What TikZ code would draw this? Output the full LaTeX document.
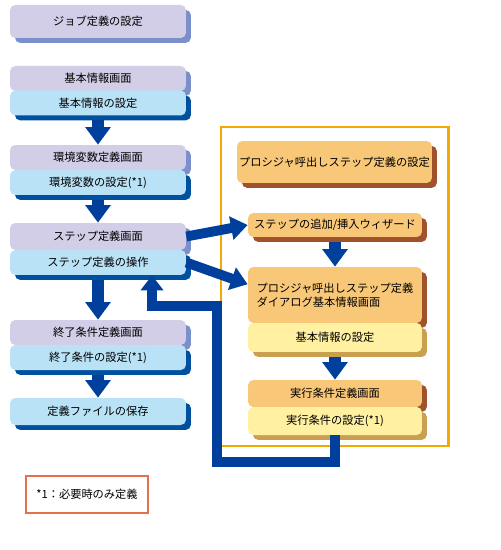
\documentclass[tikz,border=0pt]{standalone}
\usepackage{fontspec}
\setmainfont{Noto Sans CJK JP}
\usetikzlibrary{arrows.meta, shadows}

\definecolor{lavfill}{HTML}{D2CEE7}
\definecolor{lavshade}{HTML}{7B8FCB}
\definecolor{skyfill}{HTML}{BAE2F6}
\definecolor{skyshade}{HTML}{0050A0}
\definecolor{orgfill}{HTML}{F8C878}
\definecolor{orgshade}{HTML}{A0522D}
\definecolor{ylwfill}{HTML}{FFF0A2}
\definecolor{ylwshade}{HTML}{C8A050}
\definecolor{flowblue}{HTML}{00409C}
\definecolor{framegold}{HTML}{F2A900}
\definecolor{noteline}{HTML}{E5704F}

\begin{document}
\begin{tikzpicture}[
  x=0.02cm, y=-0.02cm,
  font=\fontsize{6.4}{8}\selectfont,
  box/.style={rectangle, rounded corners=3pt, text centered, inner sep=1pt},
  screen/.style={box, fill=lavfill, minimum width=3.52cm, minimum height=0.5cm,
                 drop shadow={shadow xshift=2.8pt, shadow yshift=-2.8pt, fill=lavshade, opacity=1}},
  oper/.style={box, fill=skyfill, minimum width=3.52cm, minimum height=0.5cm,
               drop shadow={shadow xshift=2.8pt, shadow yshift=-2.8pt, fill=skyshade, opacity=1}},
  pscreen/.style={box, fill=orgfill, minimum width=3.48cm, minimum height=0.54cm,
                  drop shadow={shadow xshift=2.8pt, shadow yshift=-2.8pt, fill=orgshade, opacity=1}},
  poper/.style={box, fill=ylwfill, minimum width=3.48cm, minimum height=0.56cm,
                drop shadow={shadow xshift=2.8pt, shadow yshift=-2.8pt, fill=ylwshade, opacity=1}},
  downarrow/.style={-{Triangle[width=14pt, length=10pt]}, line width=7pt, flowblue},
  sidearrow/.style={-{Triangle[width=13pt, length=9.5pt]}, line width=5.6pt, flowblue},
  backarrow/.style={-{Triangle[width=12.5pt, length=8.5pt]}, line width=5.2pt,
                    flowblue, line join=miter}
]
  \useasboundingbox (0,0) rectangle (500,550);

  % left column
  \node[screen, minimum height=0.66cm] (job) at (98,21.5) {ジョブ定義の設定};
  \node[screen] (kihongamen) at (98,78.5) {基本情報画面};
  \node[oper] (kihonset) at (98,103) {基本情報の設定};
  \node[screen] (kankyogamen) at (98,157.5) {環境変数定義画面};
  \node[oper] (kankyoset) at (98,182.5) {環境変数の設定(*1)};
  \node[screen, minimum height=0.54cm] (stepgamen) at (98,236.5) {ステップ定義画面};
  \node[oper] (stepsousa) at (98,262.5) {ステップ定義の操作};
  \node[screen] (endgamen) at (98,332.5) {終了条件定義画面};
  \node[oper] (endset) at (98,357.5) {終了条件の設定(*1)};
  \node[oper, minimum height=0.54cm] (save) at (98,411.5) {定義ファイルの保存};

  \node[draw=noteline, line width=1pt, minimum width=2.44cm, minimum height=0.74cm]
    (note) at (87,494.5) {*1：必要時のみ定義};

  % procedure call step
  \draw[framegold, line width=1.7pt] (221,127) rectangle (448,446);
  \node[pscreen, minimum width=3.9cm, minimum height=0.84cm] (procset) at (334.5,162)
    {プロシジャ呼出しステップ定義の設定};
  \node[pscreen, minimum height=0.48cm] (wizard) at (335,225) {ステップの追加/挿入ウィザード};
  \node[pscreen, minimum height=1.12cm, align=left] (dialog) at (335,295)
    {プロシジャ呼出しステップ定義\\ダイアログ基本情報画面};
  \node[poper, minimum height=0.58cm] (pkihonset) at (335,337.5) {基本情報の設定};
  \node[pscreen] (jikkogamen) at (335,393.5) {実行条件定義画面};
  \node[poper] (jikkoset) at (335,421) {実行条件の設定(*1)};

  \draw[downarrow, shorten <=2.5pt] (kihonset) -- (kankyogamen);
  \draw[downarrow, shorten <=2.5pt] (kankyoset) -- (stepgamen);
  \draw[downarrow, shorten <=2.5pt] (stepsousa) -- (endgamen);
  \draw[downarrow, shorten <=2.5pt] (endset) -- (save);
  \draw[downarrow, shorten <=2.5pt] (wizard) -- (dialog);
  \draw[downarrow, shorten <=2.5pt] (pkihonset) -- (jikkogamen);

  \draw[sidearrow] (stepgamen.east) -- (wizard.west);
  \draw[sidearrow] (stepsousa.east) -- (dialog.173);

  \coordinate (loopa) at (217,462);
  \coordinate (loopb) at (152,306);
  \draw[backarrow] (jikkoset.south) |- (loopa) |- (loopb) -- (loopb |- stepsousa.south);
\end{tikzpicture}
\end{document}
